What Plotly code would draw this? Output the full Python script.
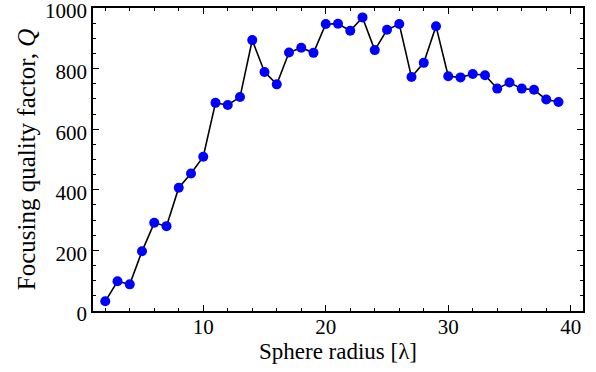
import plotly.graph_objects as go

radius = list(range(2, 40))
quality = [32, 98, 88, 197, 291, 280, 407, 454, 509, 687, 680, 706, 894,
           789, 748, 853, 869, 852, 947, 948, 925, 969, 861, 928, 947, 772,
           819, 940, 775, 771, 782, 778, 734, 754, 734, 730, 698, 690]

x_ticks = [10, 20, 30, 40]
y_ticks = [0, 200, 400, 600, 800, 1000]

font_family = "Liberation Serif, DejaVu Serif, serif"

fig = go.Figure()
fig.add_trace(go.Scatter(
    x=radius, y=quality, mode="lines+markers",
    line=dict(color="black", width=1.6),
    marker=dict(color="#0000ff", size=10, line=dict(width=0)),
    showlegend=False, cliponaxis=False,
))

axis_common = dict(
    showline=True, linecolor="black", linewidth=1.6, mirror="allticks",
    ticks="inside", tickcolor="black", tickwidth=1.3, ticklen=6,
    showgrid=False, zeroline=False, automargin=False,
    ticklabeloverflow="allow",
    tickfont=dict(family=font_family, size=21, color="black"),
)

fig.update_xaxes(
    range=[1, 41], tickvals=x_ticks, ticktext=[str(v) for v in x_ticks],
    ticklabelstandoff=-4,
    minor=dict(dtick=2, tick0=0, ticks="inside", ticklen=3, tickcolor="black", tickwidth=1),
    title=dict(text="Sphere radius [λ]", font=dict(family=font_family, size=23, color="black"), standoff=0),
    **axis_common,
)
fig.update_yaxes(
    range=[0, 1000], tickvals=y_ticks, ticktext=[str(v) for v in y_ticks],
    ticklabelshift=3,
    minor=dict(dtick=50, tick0=0, ticks="inside", ticklen=3, tickcolor="black", tickwidth=1),
    title=dict(text="Focusing quality factor, <i>Q</i>", font=dict(family=font_family, size=25, color="black"), standoff=2),
    **axis_common,
)

fig.update_layout(
    width=596, height=372,
    margin=dict(l=93, r=13, t=8, b=61),
    plot_bgcolor="white", paper_bgcolor="white",
)

fig.write_html("out.html", config={"displayModeBar": False},
               post_script="document.body.style.margin='0';")
